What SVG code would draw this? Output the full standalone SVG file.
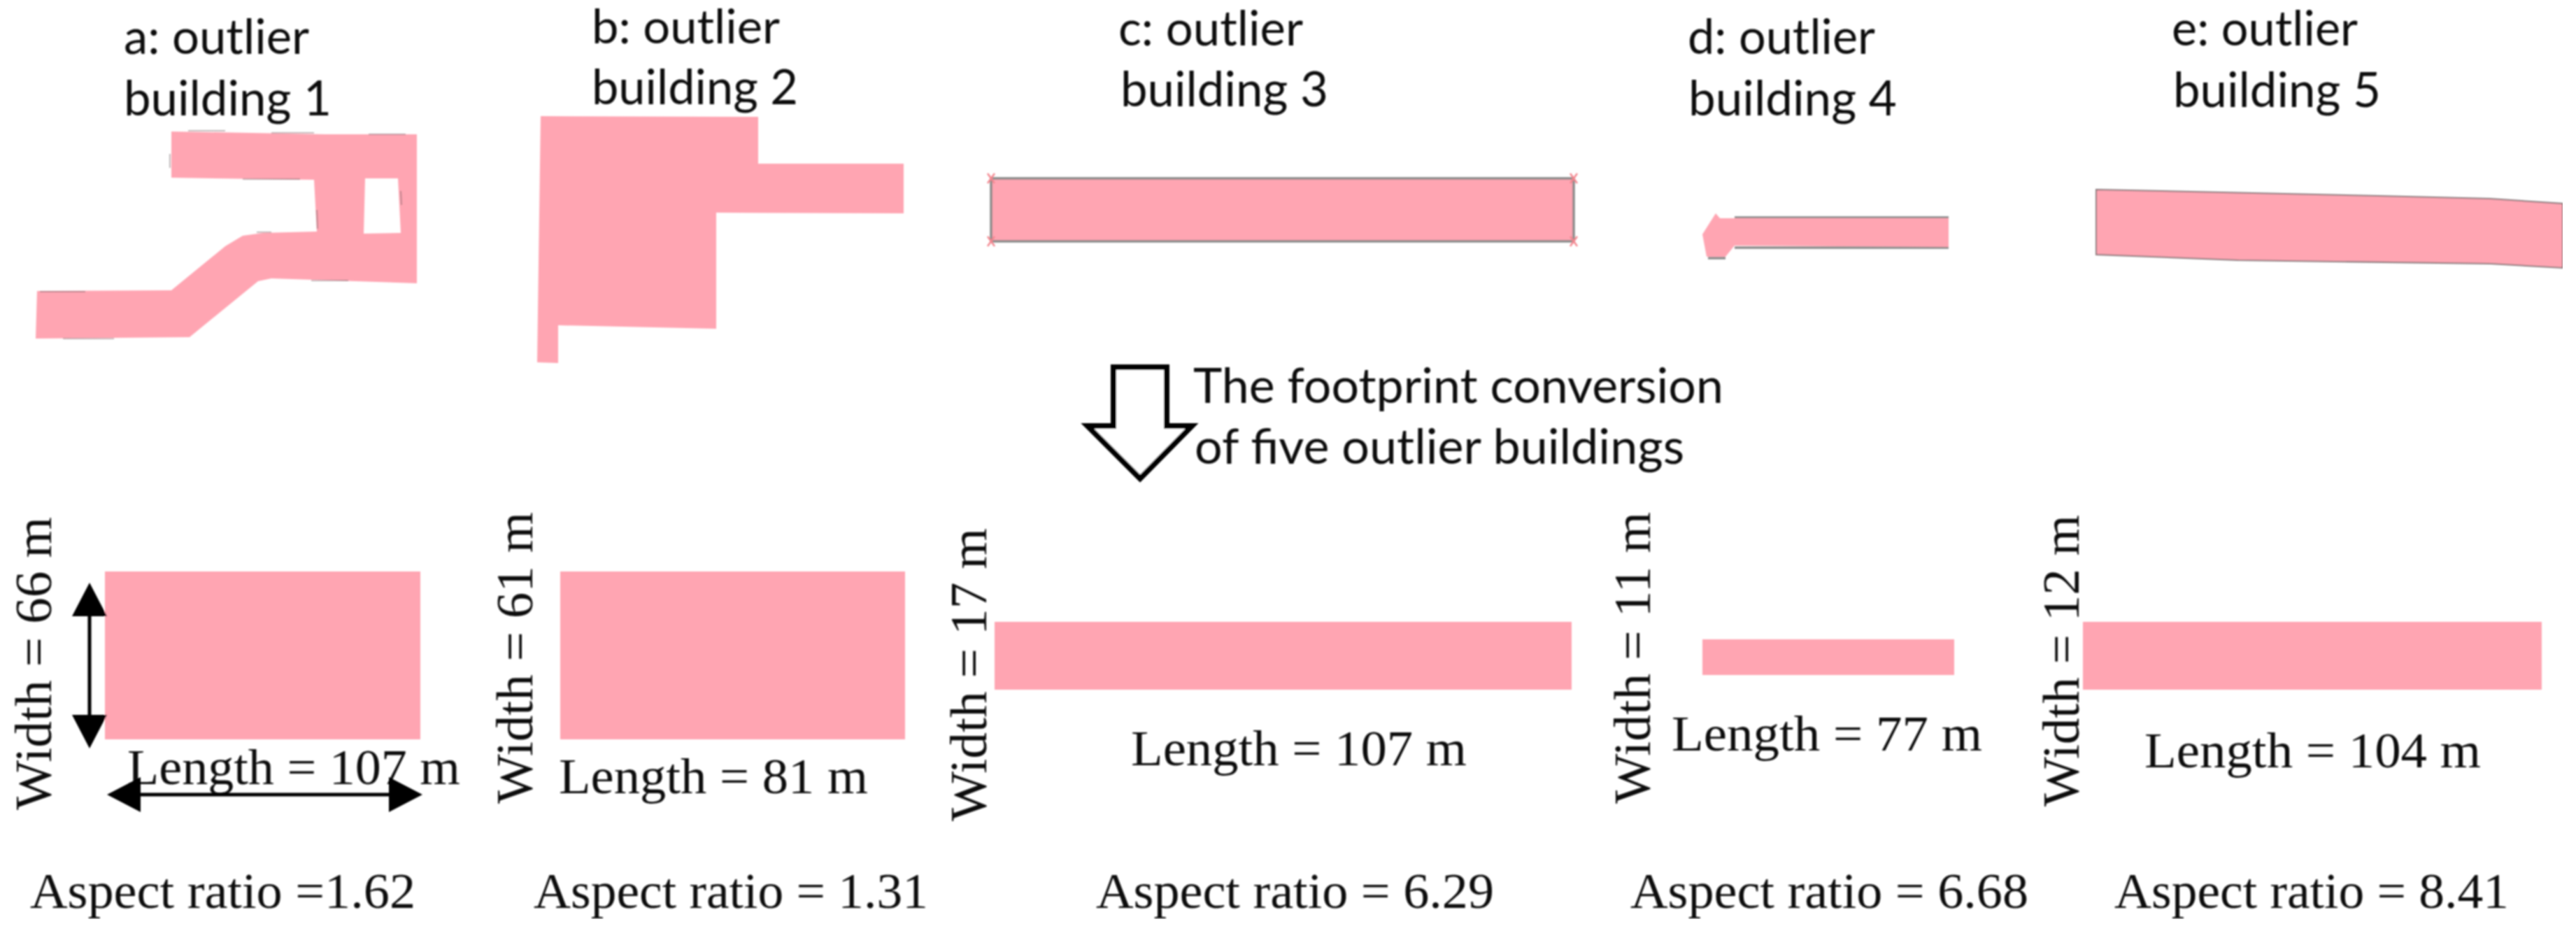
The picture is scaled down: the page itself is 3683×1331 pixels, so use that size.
<svg xmlns="http://www.w3.org/2000/svg" width="3683" height="1331" viewBox="0 0 3683 1331">
<style>
.fp{fill:#ffa5b2;stroke:none}
.edge{fill:none;stroke:#8a8a8a;stroke-width:3.5}
.tick{fill:none;stroke:#f4868f;stroke-width:2.5}
.smudge{fill:none;stroke:#6f5c60;stroke-width:2;opacity:.45}
.lab{font-family:"Lato","Noto Sans",sans-serif;font-size:70px;fill:#111}
.ser{font-family:"Liberation Serif","Times New Roman",serif;font-size:72px;fill:#111}
.wid{font-size:75px}
.dim{fill:none;stroke:#000;stroke-width:5}
.block{fill:#fff;stroke:#000;stroke-width:8;stroke-linejoin:miter}
</style>
<defs>
<marker id="hv" markerUnits="userSpaceOnUse" markerWidth="48" markerHeight="50" refX="0" refY="25" orient="auto-start-reverse" viewBox="0 0 48 50"><path d="M0 0L48 25L0 50Z" fill="#000"/></marker>
<filter id="soft" x="0" y="0" width="1" height="1"><feGaussianBlur stdDeviation="1.1"/></filter>
</defs>
<rect width="3683" height="1331" fill="#fff"/>
<g filter="url(#soft)">

<g id="building-a">
<text class="lab" x="177" y="77" textLength="265" lengthAdjust="spacingAndGlyphs">a: outlier</text>
<text class="lab" x="177" y="165" textLength="297" lengthAdjust="spacingAndGlyphs">building 1</text>
<path class="fp" fill-rule="evenodd" d="M245 188L465 192L596 192L596 405L388 398L369 402L271 482L51 484L53 416L245 415L322 352L347 337L376 333L453 331L449 257L245 254ZM522 255L520 334L573 333L569 255Z"/>
<path class="smudge" d="M269 187L322 187M388 190L449 190M527 192L580 192M347 256L429 256M367 332L388 332M445 401L498 401M90 484L163 484M57 417L122 417M243 220L243 240M453 300L454 327M573 273L574 293"/>
</g>

<g id="building-b">
<text class="lab" x="846" y="62" font-size="67" style="font-size:67px" textLength="269" lengthAdjust="spacingAndGlyphs">b: outlier</text>
<text class="lab" x="846" y="149" textLength="295" lengthAdjust="spacingAndGlyphs">building 2</text>
<path class="fp" d="M773 166L1084 167L1084 234L1292 234L1292 305L1024 304L1024 470L798 465L798 519L768 518Z"/>
</g>

<g id="building-c">
<text class="lab" x="1599" y="65" textLength="264" lengthAdjust="spacingAndGlyphs">c: outlier</text>
<text class="lab" x="1602" y="152" textLength="297" lengthAdjust="spacingAndGlyphs">building 3</text>
<rect class="fp" x="1417" y="255" width="833" height="90"/>
<rect class="edge" x="1417" y="255" width="833" height="90"/>
<path class="tick" d="M1412 248L1422 262M1422 248L1412 262M2245 248L2255 262M2255 248L2245 262M1412 338L1422 352M1422 338L1412 352M2245 338L2255 352M2255 338L2245 352"/>
</g>

<g id="building-d">
<text class="lab" x="2413" y="77" textLength="268" lengthAdjust="spacingAndGlyphs">d: outlier</text>
<text class="lab" x="2414" y="165" textLength="298" lengthAdjust="spacingAndGlyphs">building 4</text>
<path class="edge" d="M2480 311L2786 311M2480 354L2786 354M2442 369L2467 369"/>
<path class="fp" d="M2453 305L2459 312L2786 312L2786 353L2480 351L2467 367L2440 367L2434 335Z"/>
</g>

<g id="building-e">
<text class="lab" x="3105" y="65" textLength="266" lengthAdjust="spacingAndGlyphs">e: outlier</text>
<text class="lab" x="3107" y="153" textLength="297" lengthAdjust="spacingAndGlyphs">building 5</text>
<path class="fp" d="M2997 271L3400 280L3560 284L3664 291L3664 383L3560 377L3200 372L2997 364Z" style="stroke:#8a7a7d;stroke-width:2"/>
</g>

<g id="conversion-note">
<text class="lab" x="1706" y="576" textLength="758" lengthAdjust="spacingAndGlyphs">The footprint conversion</text>
<text class="lab" x="1708" y="663" textLength="700" lengthAdjust="spacingAndGlyphs">of five outlier buildings</text>
</g>

<g id="result-a">
<rect class="fp" x="150" y="817" width="451" height="240"/>
<text class="ser wid" transform="translate(73 1158) rotate(-90)" textLength="419" lengthAdjust="spacingAndGlyphs">Width = 66 m</text>
<text class="ser" x="182" y="1121" textLength="476" lengthAdjust="spacingAndGlyphs">Length = 107 m</text>
<text class="ser" x="43" y="1298" textLength="551" lengthAdjust="spacingAndGlyphs">Aspect ratio =1.62</text>
</g>

<g id="result-b">
<rect class="fp" x="801" y="817" width="493" height="240"/>
<text class="ser wid" transform="translate(761 1149) rotate(-90)" textLength="417" lengthAdjust="spacingAndGlyphs">Width = 61 m</text>
<text class="ser" x="799" y="1134" textLength="442" lengthAdjust="spacingAndGlyphs">Length = 81 m</text>
<text class="ser" x="763" y="1298" textLength="564" lengthAdjust="spacingAndGlyphs">Aspect ratio = 1.31</text>
</g>

<g id="result-c">
<rect class="fp" x="1422" y="889" width="825" height="97"/>
<text class="ser wid" transform="translate(1410 1174) rotate(-90)" textLength="419" lengthAdjust="spacingAndGlyphs">Width = 17 m</text>
<text class="ser" x="1617" y="1094" textLength="480" lengthAdjust="spacingAndGlyphs">Length = 107 m</text>
<text class="ser" x="1567" y="1298" textLength="569" lengthAdjust="spacingAndGlyphs">Aspect ratio = 6.29</text>
</g>

<g id="result-d">
<rect class="fp" x="2434" y="914" width="360" height="51"/>
<text class="ser wid" transform="translate(2359 1149) rotate(-90)" textLength="417" lengthAdjust="spacingAndGlyphs">Width = 11 m</text>
<text class="ser" x="2390" y="1073" textLength="444" lengthAdjust="spacingAndGlyphs">Length = 77 m</text>
<text class="ser" x="2331" y="1298" textLength="569" lengthAdjust="spacingAndGlyphs">Aspect ratio = 6.68</text>
</g>

<g id="result-e">
<rect class="fp" x="2978" y="889" width="656" height="97"/>
<text class="ser wid" transform="translate(2972 1153) rotate(-90)" textLength="417" lengthAdjust="spacingAndGlyphs">Width = 12 m</text>
<text class="ser" x="3066" y="1097" textLength="481" lengthAdjust="spacingAndGlyphs">Length = 104 m</text>
<text class="ser" x="3023" y="1298" textLength="564" lengthAdjust="spacingAndGlyphs">Aspect ratio = 8.41</text>
</g>

<g id="connectors">
<path id="conversion-arrow" class="block" d="M1592 525L1668 525L1668 609L1704 609L1630 684L1555 609L1592 609Z"/>
<line class="dim" x1="128" y1="881" x2="128" y2="1022" marker-start="url(#hv)" marker-end="url(#hv)"/>
<line class="dim" x1="201" y1="1136" x2="556" y2="1136" marker-start="url(#hv)" marker-end="url(#hv)"/>
</g>
</g>
</svg>
